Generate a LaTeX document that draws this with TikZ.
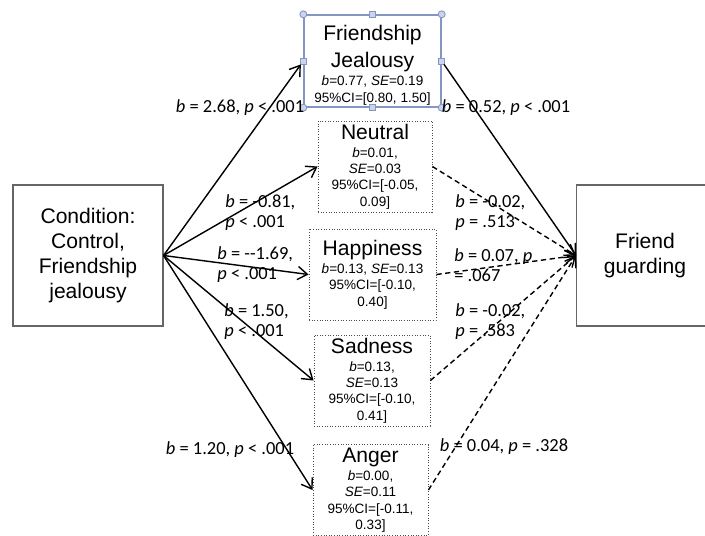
\documentclass[tikz,border=0pt]{standalone}
\usepackage{fontspec}
\setmainfont{Liberation Sans}
\newfontfamily\calibri{Carlito}
\usetikzlibrary{arrows.meta}

\definecolor{handleline}{HTML}{8596C2}
\definecolor{handlefill}{HTML}{CBD4EA}
\newcommand\titlefont{\fontsize{12}{14.2}\selectfont}
\newcommand\statfont{\fontsize{7.7}{9.3}\selectfont}
\newcommand\pathfont{\calibri\fontsize{10.5}{11.4}\selectfont}

\begin{document}
\begin{tikzpicture}[x=0.02cm, y=-0.02cm,
    outerbox/.style={draw=black!60, line width=0.6pt, align=center, font=\titlefont, inner sep=0pt},
    medbox/.style={draw=black!70, densely dotted, line width=0.5pt, align=center, font=\statfont,
        inner sep=0pt, minimum height=1.82cm},
    pathlab/.style={font=\pathfont, inner sep=0pt},
    solidarrow/.style={-{Straight Barb[length=5.5pt,width=7.5pt]}, line width=0.8pt},
    dasharrow/.style={solidarrow, dash pattern=on 3pt off 2pt},
    handlecirc/.style={circle, draw=handleline, fill=handlefill, line width=0.5pt, inner sep=0pt, minimum size=0.14cm},
    handlesq/.style={rectangle, draw=handleline, fill=handlefill, line width=0.5pt, inner sep=0pt, minimum size=0.12cm}]

    \useasboundingbox (0,0) rectangle (705,536);
    \clip (0,0) rectangle (705,536);

    % Left box
    \node[outerbox, minimum width=3cm, minimum height=2.82cm] (cond) at (88,255.5)
        {Condition:\\Control,\\Friendship\\jealousy};

    % Right box (runs past the edge)
    \node[outerbox, anchor=west, minimum width=3.6cm, minimum height=2.82cm] (guard) at (576,255.5) {};
    \node[align=center, font=\titlefont, inner sep=0pt] (guardtext) at (645,255.5) {Friend\\guarding};

    % Mediators
    \node[draw=handleline, line width=0.8pt, align=center, font=\statfont, inner sep=0pt,
        minimum width=2.74cm, minimum height=1.84cm] (fj) at (372.5,61)
        {\rule{0pt}{14pt}{\titlefont Friendship}\\[3pt]{\titlefont Jealousy}\\[1pt]
         {\itshape b}=0.77, {\itshape SE}=0.19\\[0.5pt]95\%CI=[0.80, 1.50]};
    \node[medbox, minimum width=2.28cm] (neutral) at (375,166.5)
        {{\titlefont Neutral}\\[1pt]{\itshape b}=0.01,\\{\itshape SE}=0.03\\95\%CI=[-0.05,\\0.09]};
    \node[medbox, minimum width=2.54cm] (happy) at (372.5,274.5)
        {{\titlefont Happiness}\\[1pt]{\itshape b}=0.13, {\itshape SE}=0.13\\95\%CI=[-0.10,\\0.40]};
    \node[medbox, minimum width=2.32cm] (sad) at (372,380.5)
        {{\titlefont Sadness}\\[1pt]{\itshape b}=0.13,\\{\itshape SE}=0.13\\95\%CI=[-0.10,\\0.41]};
    \node[medbox, minimum width=2.3cm] (anger) at (370.5,490)
        {{\titlefont Anger}\\[1pt]{\itshape b}=0.00,\\{\itshape SE}=0.11\\95\%CI=[-0.11,\\0.33]};

    % Selection handles
    \foreach \a/\n in {north west/fjnw, north east/fjne, south west/fjsw, south east/fjse}
        \node[handlecirc] (\n) at (fj.\a) {};
    \foreach \a/\n in {north/fjn, south/fjs, west/fjw, east/fje}
        \node[handlesq] (\n) at (fj.\a) {};

    % Paths a
    \draw[solidarrow] (cond.east) -- (fjw);
    \draw[solidarrow] (cond.east) -- (neutral.west);
    \draw[solidarrow] (cond.east) -- (happy.west);
    \draw[solidarrow] (cond.east) -- (sad.west);
    \draw[solidarrow] (cond.east) -- (anger.west);

    % Paths b
    \draw[solidarrow] (fje) -- (guard.west);
    \draw[dasharrow] (neutral.east) -- (guard.west);
    \draw[dasharrow] (happy.east) -- (guard.west);
    \draw[dasharrow] (sad.east) -- (guard.west);
    \draw[dasharrow] (anger.east) -- (guard.west);

    % Labels
    \node[pathlab] (la1) at (240,108) {{\itshape b} = 2.68, {\itshape p} < .001};
    \node[pathlab, anchor=west, align=left] (la2) at (225,213) {{\itshape b} = -0.81,\\{\itshape p} < .001};
    \node[pathlab, anchor=west, align=left] (la3) at (217,265) {{\itshape b} = -{}-1.69,\\{\itshape p} < .001};
    \node[pathlab, anchor=west, align=left] (la4) at (224,322) {{\itshape b} = 1.50,\\{\itshape p} < .001};
    \node[pathlab] (la5) at (230,450) {{\itshape b} = 1.20, {\itshape p} < .001};

    \node[pathlab] (lb1) at (506,108) {{\itshape b} = 0.52, {\itshape p} < .001};
    \node[pathlab, anchor=west, align=left] (lb2) at (455,213) {{\itshape b} = -0.02,\\{\itshape p} = .513};
    \node[pathlab, anchor=west, align=left] (lb3) at (454,265) {{\itshape b} = 0.07, {\itshape p}\\= .067};
    \node[pathlab, anchor=west, align=left] (lb4) at (455,322) {{\itshape b} = -0.02,\\{\itshape p} = .583};
    \node[pathlab] (lb5) at (504,447) {{\itshape b} = 0.04, {\itshape p} = .328};
\end{tikzpicture}
\end{document}
